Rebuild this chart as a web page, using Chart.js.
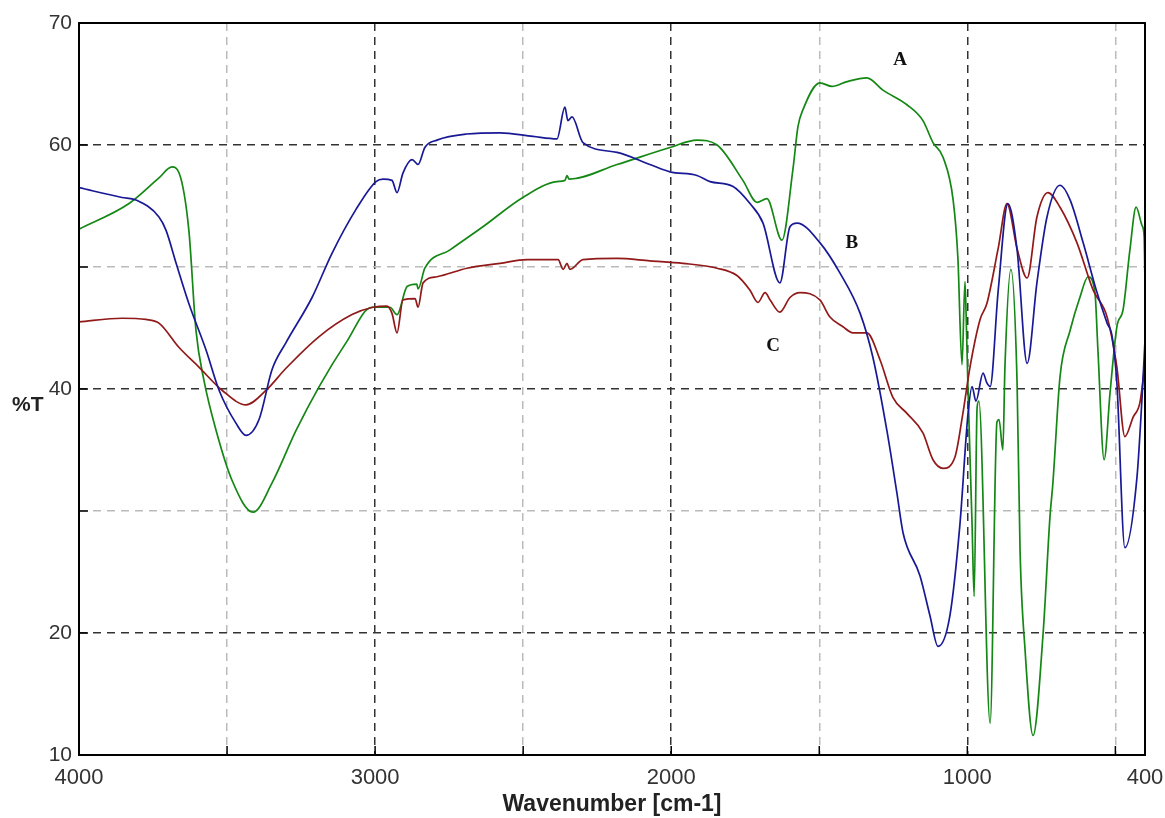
<!DOCTYPE html>
<html>
<head>
<meta charset="utf-8">
<script src="https://cdn.jsdelivr.net/npm/chart.js@4"></script>
<style>
  html, body { margin: 0; padding: 0; background: #fff; }
  #wrap { width: 1165px; height: 818px; position: relative; }
</style>
</head>
<body>
<div id="wrap"><canvas id="irChart"></canvas></div>
<script>
// spectrum A (green)
const waveA = [4000, 3831, 3730, 3686, 3662, 3629, 3605, 3578, 3537, 3483, 3412, 3348, 3267, 3189, 3098, 3011,
    2950, 2926, 2892, 2859, 2855, 2832, 2747, 2636, 2501, 2386, 2359, 2352, 2345, 2183, 2004, 1913, 1845, 1758,
    1710, 1677, 1626, 1589, 1572, 1555, 1498, 1457, 1406, 1339, 1285, 1204, 1150, 1116, 1082, 1048, 1032, 1018,
    1008, 1004, 998, 984, 977, 967, 961, 923, 900, 893, 880, 873, 853, 832, 822, 805, 778, 744, 721, 711, 687,
    653, 620, 592, 569, 559, 538, 518, 495, 474, 451, 430, 410, 403, 400];
const transA = [53.1, 55.2, 57.3, 58.2, 57.7, 53.0, 44.8, 40.7, 36.6, 32.5, 29.9, 32.3, 36.6, 40.2, 43.8, 46.7,
    46.7, 46.1, 48.4, 48.6, 48.2, 49.9, 51.4, 53.3, 55.7, 57.0, 57.1, 57.5, 57.2, 58.4, 59.8, 60.4, 60.0, 57.1,
    55.3, 55.6, 52.2, 58.0, 61.5, 62.9, 65.1, 64.8, 65.2, 65.5, 64.5, 63.3, 62.0, 60.2, 59.0, 55.5, 50.8, 42.0,
    48.8, 46.0, 40.2, 28.9, 23.0, 38.5, 39.0, 12.6, 37.3, 37.5, 35.0, 41.8, 49.8, 40.5, 26.8, 18.6, 11.6, 20.0,
    29.5, 32.3, 41.0, 44.8, 47.5, 49.2, 47.9, 43.2, 34.2, 39.7, 45.1, 46.5, 51.4, 54.9, 53.4, 52.5, 48.7];

// spectrum B (blue)
const waveB = [4000, 3855, 3808, 3730, 3706, 3672, 3629, 3571, 3527, 3470, 3436, 3392, 3348, 3301, 3213, 3146,
    3065, 2997, 2973, 2943, 2926, 2906, 2875, 2855, 2832, 2791, 2690, 2578, 2467, 2386, 2359, 2349, 2335, 2298,
    2183, 2072, 2004, 1913, 1869, 1791, 1734, 1690, 1633, 1599, 1575, 1498, 1430, 1362, 1319, 1271, 1238, 1217,
    1160, 1126, 1099, 1059, 1025, 998, 984, 971, 947, 934, 923, 896, 863, 832, 798, 765, 731, 687, 653, 609,
    562, 528, 511, 495, 468, 427, 410, 400];
const transB = [56.5, 55.7, 55.5, 54.1, 53.0, 50.3, 47.0, 43.2, 39.9, 37.2, 36.2, 37.5, 41.6, 43.8, 47.5, 51.1,
    54.7, 57.0, 57.2, 57.1, 56.1, 57.7, 58.8, 58.4, 59.8, 60.4, 60.9, 61.0, 60.7, 60.5, 63.1, 62.0, 62.3, 60.2,
    59.4, 58.4, 57.8, 57.5, 57.0, 56.6, 55.2, 53.6, 48.7, 53.3, 53.6, 52.0, 49.5, 46.2, 42.6, 36.5, 31.5, 28.2,
    24.7, 21.4, 18.9, 21.4, 28.9, 37.9, 40.2, 39.0, 41.3, 40.5, 40.2, 48.0, 55.2, 51.4, 42.1, 48.7, 54.1, 56.7,
    55.5, 52.0, 47.9, 45.4, 44.3, 40.5, 27.0, 32.8, 39.3, 44.0];

// spectrum C (red)
const waveC = [4000, 3855, 3774, 3730, 3662, 3595, 3517, 3436, 3368, 3301, 3189, 3078, 3007, 2960, 2943, 2926,
    2906, 2865, 2855, 2838, 2791, 2690, 2578, 2487, 2382, 2365, 2352, 2342, 2298, 2183, 2072, 1960, 1845, 1778,
    1734, 1707, 1683, 1666, 1633, 1599, 1565, 1498, 1464, 1420, 1386, 1339, 1295, 1251, 1204, 1150, 1116, 1082,
    1042, 1015, 991, 957, 934, 896, 866, 832, 798, 765, 728, 687, 630, 575, 528, 495, 468, 440, 417, 400];
const transC = [45.5, 45.8, 45.7, 45.4, 43.4, 41.8, 39.9, 38.7, 39.9, 41.7, 44.3, 46.1, 46.7, 46.8, 46.2, 44.6,
    47.3, 47.4, 46.7, 48.7, 49.2, 49.9, 50.3, 50.6, 50.6, 49.8, 50.3, 49.8, 50.6, 50.7, 50.5, 50.3, 49.9, 49.3,
    48.1, 47.1, 47.9, 47.3, 46.3, 47.5, 47.9, 47.3, 45.9, 45.1, 44.6, 44.6, 42.4, 39.3, 38.0, 36.4, 34.2, 33.5,
    34.4, 38.0, 41.8, 45.7, 47.0, 51.5, 55.2, 51.5, 49.1, 54.1, 56.1, 54.9, 52.0, 48.1, 45.9, 41.8, 36.1, 37.7,
    38.9, 42.1];

// curve labels: [text, wavenumber, %T]
const curveLabels = [['A', 1227, 67.0], ['B', 1390, 52.0], ['C', 1656, 43.5]];

const xTicks = [4000, 3500, 3000, 2500, 2000, 1500, 1000, 500, 400];
const xLabelled = [4000, 3000, 2000, 1000, 400];
const yLabelled = [10, 20, 40, 60, 70];

const toPoints = (xs, ys) => xs.map((x, i) => ({x: x, y: ys[i]}));

const frame = {
    id: 'frame',
    afterDraw(chart) {
        const {ctx, chartArea: a, scales} = chart;
        ctx.save();
        // inward tick marks
        ctx.strokeStyle = '#000';
        ctx.lineWidth = 1.5;
        ctx.beginPath();
        scales.y.ticks.forEach(t => {
            const py = scales.y.getPixelForValue(t.value);
            ctx.moveTo(a.left, py); ctx.lineTo(a.left + 9, py);
        });
        scales.x.ticks.forEach(t => {
            const px = scales.x.getPixelForValue(t.value);
            ctx.moveTo(px, a.bottom); ctx.lineTo(px, a.bottom - 9);
        });
        ctx.stroke();
        // box
        ctx.lineWidth = 2;
        ctx.strokeRect(a.left, a.top, a.right - a.left, a.bottom - a.top);
        // curve letters
        ctx.fillStyle = '#111';
        ctx.font = 'bold 19px "Liberation Serif", "DejaVu Serif", serif';
        ctx.textAlign = 'center';
        ctx.textBaseline = 'middle';
        curveLabels.forEach(([t, wn, v]) => {
            ctx.fillText(t, scales.x.getPixelForValue(wn), scales.y.getPixelForValue(v));
        });
        // axis titles
        ctx.fillStyle = '#222';
        ctx.font = 'bold 23px "Liberation Sans", Arial, sans-serif';
        ctx.fillText('Wavenumber [cm-1]', 612, 805);
        ctx.textAlign = 'left';
        ctx.font = 'bold 21px "Liberation Sans", Arial, sans-serif';
        ctx.fillText('%T', 12, 405);
        ctx.restore();
    }
};

const lineStyle = (label, color, pts) => ({
    label: label,
    data: pts,
    borderColor: color,
    borderWidth: 1.7,
    pointRadius: 0,
    fill: false,
    cubicInterpolationMode: 'monotone'
});

const config = {
    type: 'line',
    data: {
        datasets: [
            lineStyle('B', 'rgb(25, 25, 150)', toPoints(waveB, transB)),
            lineStyle('C', 'rgb(145, 25, 25)', toPoints(waveC, transC)),
            lineStyle('A', 'rgb(20, 135, 20)', toPoints(waveA, transA))
        ]
    },
    options: {
        responsive: true,
        maintainAspectRatio: false,
        animation: false,
        layout: {padding: {top: 23, right: 20, left: 0, bottom: 0}},
        plugins: {
            legend: {display: false},
            tooltip: {enabled: false}
        },
        scales: {
            x: {
                type: 'linear',
                min: 400,
                max: 4000,
                reverse: true,
                afterBuildTicks: (scale) => { scale.ticks = xTicks.map(v => ({value: v})); },
                afterFit: (scale) => {
                    scale.height = 63;
                    scale.paddingLeft = 0;
                    scale.paddingRight = 0;
                },
                ticks: {
                    autoSkip: false,
                    maxRotation: 0,
                    padding: 10,
                    color: '#333',
                    font: {family: '"Liberation Sans", Arial, sans-serif', size: 22},
                    callback: (v) => xLabelled.includes(v) ? String(v) : ''
                },
                grid: {
                    drawTicks: false,
                    lineWidth: 1.5,
                    color: (c) => {
                        const v = c.tick.value;
                        if (v === 4000 || v === 400) return 'rgba(0,0,0,0)';
                        return v % 1000 === 0 ? '#333' : '#bbb';
                    }
                },
                border: {display: false, dash: [8, 6]}
            },
            y: {
                min: 10,
                max: 70,
                afterFit: (scale) => {
                    scale.width = 79;
                    scale.paddingTop = 0;
                    scale.paddingBottom = 0;
                },
                ticks: {
                    stepSize: 10,
                    padding: 7,
                    color: '#333',
                    font: {family: '"Liberation Sans", Arial, sans-serif', size: 21},
                    callback: (v) => yLabelled.includes(v) ? String(v) : ''
                },
                grid: {
                    drawTicks: false,
                    lineWidth: 1.5,
                    color: (c) => {
                        const v = c.tick.value;
                        if (v === 10 || v === 70) return 'rgba(0,0,0,0)';
                        return v % 20 === 0 ? '#333' : '#bbb';
                    }
                },
                border: {display: false, dash: [8, 6]}
            }
        }
    },
    plugins: [frame]
};

new Chart(document.getElementById('irChart'), config);
</script>
</body>
</html>
